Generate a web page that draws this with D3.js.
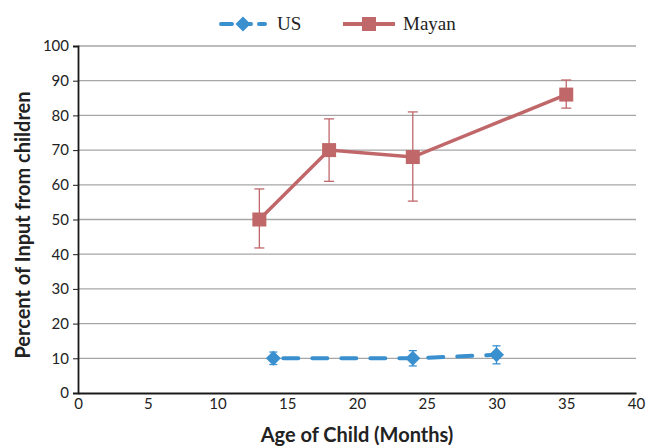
<!DOCTYPE html>
<html><head><meta charset="utf-8">
<script src="https://cdn.jsdelivr.net/npm/d3@7"></script>
<style>body{margin:0;background:#fff}</style>
</head><body>
<svg id="c" width="649" height="446"></svg>
<script>
const usAge = [14, 24, 30];
const usVal = [10, 10, 11];
const usErr = [1.8, 2.2, 2.6];
const mayanAge = [13, 18, 24, 35];
const mayanVal = [50, 70, 68, 86];
const mayanErrUp = [8.8, 9, 13, 4.2];
const mayanErrDn = [8.2, 9, 12.7, 3.9];
const xTicks = [0,5,10,15,20,25,30,35,40];
const yTicks = [0,10,20,30,40,50,60,70,80,90,100];

const svg = d3.select("#c");
const L=78, R=636, T=46, B=393;
const x = d3.scaleLinear().domain([0,40]).range([L,R]);
const y = d3.scaleLinear().domain([0,100]).range([B,T]);
const US_C = "#3a8fcf", MY_C = "#c0676a";
const SANS = "Lato, 'Open Sans', sans-serif";

// grid
svg.append("g").selectAll("line").data(yTicks.filter(d=>d>0)).join("line")
  .attr("x1",L).attr("x2",R).attr("y1",d=>y(d)).attr("y2",d=>y(d))
  .attr("stroke","#a6a6a6").attr("stroke-width",1.3);

// y axis
const ya = svg.append("g").attr("transform",`translate(${L},0)`)
  .call(d3.axisLeft(y).tickValues(yTicks).tickSize(5).tickPadding(4));
ya.select(".domain").attr("stroke","#1a1a1a").attr("stroke-width",1.8);
ya.selectAll(".tick line").attr("stroke","#1a1a1a");
ya.selectAll("text").attr("font-family",SANS).attr("font-size",15).attr("fill","#222");

// x axis
const xa = svg.append("g").attr("transform",`translate(0,${B})`)
  .call(d3.axisBottom(x).tickValues(xTicks).tickSize(0).tickPadding(5));
xa.select(".domain").attr("stroke","#1a1a1a").attr("stroke-width",2.2);
xa.selectAll("text").attr("font-family",SANS).attr("font-size",15).attr("fill","#222");

// axis titles
svg.append("text").attr("x",357).attr("y",442).attr("text-anchor","middle")
  .attr("font-family",SANS).attr("font-weight","bold").attr("font-size",20).attr("fill","#222")
  .text("Age of Child (Months)");
svg.append("text").attr("transform",`translate(30,225) rotate(-90)`).attr("text-anchor","middle")
  .attr("font-family",SANS).attr("font-weight","bold").attr("font-size",20).attr("fill","#222")
  .text("Percent of Input from children");

// Mayan
const my = mayanAge.map((a,i)=>({a,v:mayanVal[i],up:mayanErrUp[i],dn:mayanErrDn[i]}));
const gm = svg.append("g");
my.forEach(d=>{
  gm.append("line").attr("x1",x(d.a)).attr("x2",x(d.a)).attr("y1",y(d.v+d.up)).attr("y2",y(d.v-d.dn)).attr("stroke",MY_C).attr("stroke-width",1.3);
  [d.v+d.up,d.v-d.dn].forEach(e=>gm.append("line").attr("x1",x(d.a)-5).attr("x2",x(d.a)+5).attr("y1",y(e)).attr("y2",y(e)).attr("stroke",MY_C).attr("stroke-width",1.3));
});
gm.append("path").datum(my).attr("d",d3.line().x(d=>x(d.a)).y(d=>y(d.v)))
  .attr("fill","none").attr("stroke",MY_C).attr("stroke-width",3.5);
gm.selectAll("rect").data(my).join("rect").attr("x",d=>x(d.a)-7).attr("y",d=>y(d.v)-7)
  .attr("width",14).attr("height",14).attr("fill",MY_C);

// US
const us = usAge.map((a,i)=>({a,v:usVal[i],e:usErr[i]}));
const gu = svg.append("g");
us.forEach(d=>{
  gu.append("line").attr("x1",x(d.a)).attr("x2",x(d.a)).attr("y1",y(d.v+d.e)).attr("y2",y(d.v-d.e)).attr("stroke",US_C).attr("stroke-width",1.3);
  [d.v+d.e,d.v-d.e].forEach(e=>gu.append("line").attr("x1",x(d.a)-4).attr("x2",x(d.a)+4).attr("y1",y(e)).attr("y2",y(e)).attr("stroke",US_C).attr("stroke-width",1.3));
});
gu.append("path").datum(us).attr("d",d3.line().x(d=>x(d.a)).y(d=>y(d.v)))
  .attr("fill","none").attr("stroke",US_C).attr("stroke-width",4).attr("stroke-dasharray","15,14").attr("stroke-linecap","round").attr("stroke-dashoffset",-10);
const dia = "M0,-7.5L7.5,0L0,7.5L-7.5,0Z";
gu.selectAll("path.m").data(us).join("path").attr("class","m").attr("d",dia)
  .attr("transform",d=>`translate(${x(d.a)},${y(d.v)})`).attr("fill",US_C);

// legend
const lg = svg.append("g");
lg.append("line").attr("x1",221).attr("x2",265).attr("y1",24).attr("y2",24).attr("stroke",US_C).attr("stroke-width",4).attr("stroke-dasharray","11,8").attr("stroke-linecap","round");
lg.append("path").attr("d",dia).attr("transform","translate(243,24)").attr("fill",US_C);
lg.append("text").attr("x",277).attr("y",30).attr("font-family","'Liberation Serif', serif").attr("font-size",19).attr("fill","#222").text("US");
lg.append("line").attr("x1",343).attr("x2",395).attr("y1",24).attr("y2",24).attr("stroke",MY_C).attr("stroke-width",4);
lg.append("rect").attr("x",362).attr("y",17).attr("width",14).attr("height",14).attr("fill",MY_C);
lg.append("text").attr("x",403).attr("y",30).attr("font-family","'Liberation Serif', serif").attr("font-size",19).attr("fill","#222").text("Mayan");
</script>
</body></html>
